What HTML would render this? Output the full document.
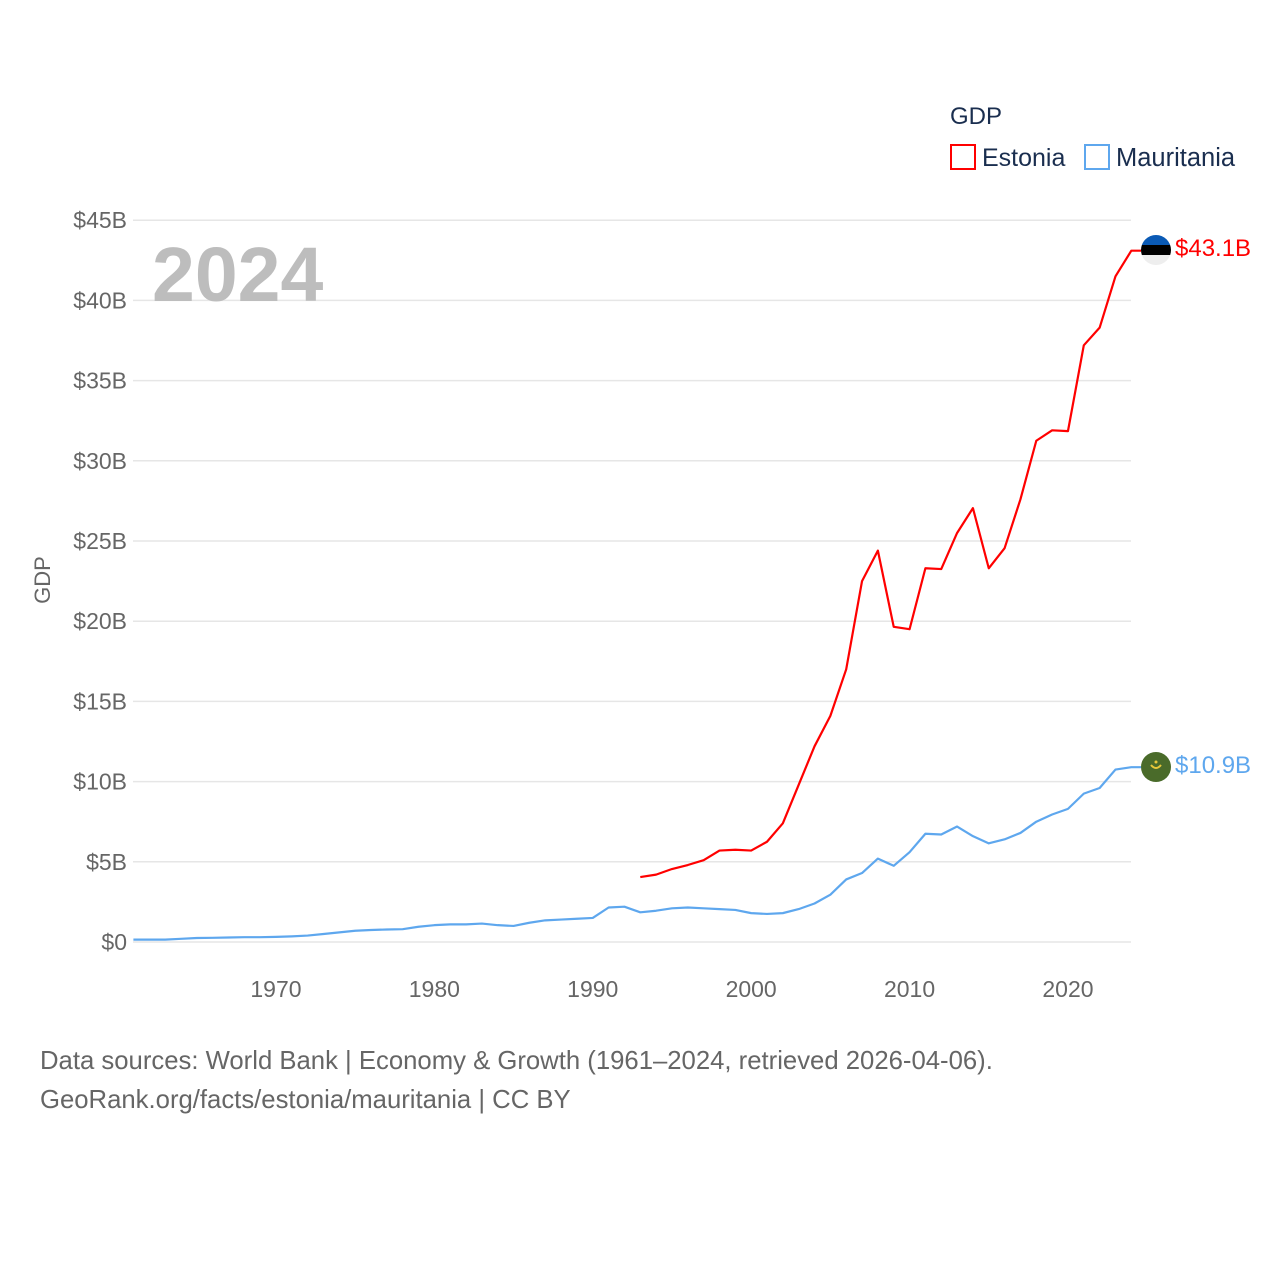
<!DOCTYPE html>
<html><head><meta charset="utf-8"><style>
body{margin:0;background:#fff;font-family:"Liberation Sans",sans-serif}
</style></head><body>
<svg id="chart" width="1280" height="1280" viewBox="0 0 1280 1280" xmlns="http://www.w3.org/2000/svg" font-family="Liberation Sans, sans-serif">
<rect width="1280" height="1280" fill="#fff"/>
<g id="grid"></g>
<g id="yticks"></g>
<g id="xticks"></g>
<text x="152" y="301" font-size="77" font-weight="bold" fill="#bdbdbd">2024</text>
<text transform="translate(50,580) rotate(-90)" text-anchor="middle" font-size="22" fill="#666">GDP</text>
<g id="lines"></g>
<g>
<text x="950" y="124" font-size="24" fill="#1a2e4f">GDP</text>
<g>
<rect x="951" y="145" width="24" height="24" fill="none" stroke="#ff0000" stroke-width="2"/>
<text x="982" y="166" font-size="25" fill="#1a2e4f">Estonia</text></g>
<g>
<rect x="1085" y="145" width="24" height="24" fill="none" stroke="#5ea7ee" stroke-width="2"/>
<text x="1116" y="166" font-size="25.5" fill="#1a2e4f">Mauritania</text></g>
</g>
<g>
<clipPath id="ce"><circle cx="1156" cy="250" r="15"/></clipPath>
<g clip-path="url(#ce)"><rect x="1140" y="234" width="32" height="11" fill="#0a5ab5"/><rect x="1140" y="245" width="32" height="10" fill="#000"/><rect x="1140" y="255" width="32" height="11" fill="#eee"/></g>
</g>
<g>
<circle cx="1156" cy="767" r="15" fill="#4a6b2a"/>
<path d="M1151 765 q5 6 10 0" stroke="#e8c83a" stroke-width="2" fill="none"/>
<circle cx="1156" cy="762" r="1.5" fill="#e8c83a"/>
</g>
<text x="1175" y="256" font-size="24" fill="#ff0000">$43.1B</text>
<text x="1175" y="773" font-size="24" fill="#5ea7ee">$10.9B</text>
<text x="40" y="1069" font-size="25.7" fill="#666">Data sources: World Bank | Economy &amp; Growth (1961–2024, retrieved 2026-04-06).</text>
<text x="40" y="1108" font-size="25.7" fill="#666">GeoRank.org/facts/estonia/mauritania | CC BY</text>
</svg>
<script>
const yTicks=[0,5,10,15,20,25,30,35,40,45];
const yTickLabels=["$0","$5B","$10B","$15B","$20B","$25B","$30B","$35B","$40B","$45B"];
const xTicks=[1970,1980,1990,2000,2010,2020];
const estoniaStart=1993;
const estoniaValues=[4.05,4.2,4.55,4.8,5.1,5.7,5.75,5.7,6.25,7.4,9.8,12.2,14.1,17.0,22.5,24.4,19.65,19.5,23.3,23.25,25.5,27.05,23.3,24.55,27.6,31.25,31.9,31.85,37.2,38.3,41.5,43.1];
const mauritaniaStart=1961;
const mauritaniaValues=[0.15,0.15,0.15,0.2,0.25,0.26,0.28,0.3,0.3,0.32,0.35,0.4,0.5,0.6,0.7,0.75,0.78,0.8,0.95,1.05,1.1,1.1,1.15,1.05,1.0,1.2,1.35,1.4,1.45,1.5,2.15,2.2,1.85,1.95,2.1,2.15,2.1,2.05,2.0,1.8,1.75,1.8,2.05,2.4,2.95,3.9,4.3,5.2,4.75,5.6,6.75,6.7,7.2,6.6,6.15,6.4,6.8,7.5,7.95,8.3,9.25,9.6,10.75,10.9];
const NS="http://www.w3.org/2000/svg";
function x(yr){return 133.4+(yr-1961)*15.84;}
function y(v){return 942-v*16.04;}
const grid=document.getElementById('grid'),yt=document.getElementById('yticks'),xt=document.getElementById('xticks'),lines=document.getElementById('lines');
yTicks.forEach((v,i)=>{
 const l=document.createElementNS(NS,'line');
 
 
 l.setAttribute('x1',133);l.setAttribute('x2',1131);l.setAttribute('y1',y(v));l.setAttribute('y2',y(v));
 l.setAttribute('stroke','#e6e6e6');l.setAttribute('stroke-width','1.5');grid.appendChild(l);
 const t=document.createElementNS(NS,'text');
 
 
 t.setAttribute('x',127);t.setAttribute('y',y(v)+8);t.setAttribute('text-anchor','end');t.setAttribute('font-size','23');t.setAttribute('fill','#666');
 t.textContent=yTickLabels[i];yt.appendChild(t);
});
xTicks.forEach(yr=>{
 const t=document.createElementNS(NS,'text');
 
 
 t.setAttribute('x',x(yr));t.setAttribute('y',997);t.setAttribute('text-anchor','middle');t.setAttribute('font-size','23');t.setAttribute('fill','#666');
 t.textContent=yr;xt.appendChild(t);
});
function draw(vals,start,color,name){
 const pts=vals.map((v,i)=>x(start+i)+','+y(v));
 const last=vals[vals.length-1];
 pts.push('1141,'+y(last));
 const p=document.createElementNS(NS,'polyline');
 
 
 p.setAttribute('points',pts.join(' '));
 p.setAttribute('fill','none');p.setAttribute('stroke',color);p.setAttribute('stroke-width','2.2');p.setAttribute('stroke-linejoin','round');
 lines.appendChild(p);
}
draw(mauritaniaValues,mauritaniaStart,'#5ea7ee','mauritania-line');
draw(estoniaValues,estoniaStart,'#ff0000','estonia-line');
</script>
</body></html>
